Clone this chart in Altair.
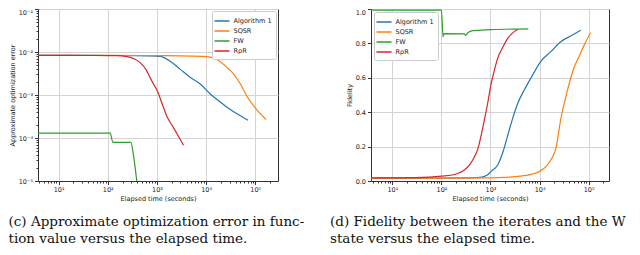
import altair as alt
import pandas as pd

SERIES = ["Algorithm 1", "SQSR", "FW", "RρR"]
COLORS = ["#1f77b4", "#ff7f0e", "#2ca02c", "#d62728"]

# ---------- panel (c): approximate optimization error ----------
err_alg1_t = [3.8, 10, 50, 100, 300, 600, 1000, 1170, 1860, 2950, 4500, 7600, 12000, 19000, 31000, 50000, 71000]
err_alg1_v = [8.35e-3, 8.35e-3, 8.35e-3, 8.3e-3, 8.25e-3, 8.15e-3, 8.05e-3, 7.9e-3, 6.1e-3, 4.0e-3, 2.7e-3, 1.8e-3, 1.07e-3, 7.0e-4, 4.6e-4, 3.3e-4, 2.6e-4]

err_sqsr_t = [3.8, 100, 1000, 5000, 10000, 14000, 20000, 27000, 36000, 50000, 68000, 108000, 165000]
err_sqsr_v = [8.35e-3, 8.35e-3, 8.25e-3, 8.05e-3, 7.8e-3, 7.3e-3, 5.8e-3, 4.3e-3, 3.1e-3, 1.8e-3, 9.2e-4, 4.5e-4, 2.7e-4]

err_fw_t = [3.8, 112, 127, 295, 333, 390, 525]
err_fw_v = [1.3e-4, 1.3e-4, 7.9e-5, 7.9e-5, 4.0e-5, 1.0e-5, 1.0e-6]

err_rgr_t = [3.8, 50, 150, 245, 350, 460, 600, 720, 850, 1000, 1260, 1590, 2200, 3470]
err_rgr_v = [8.35e-3, 8.3e-3, 8.2e-3, 7.8e-3, 6.9e-3, 5.6e-3, 3.9e-3, 2.6e-3, 1.8e-3, 1.3e-3, 6.5e-4, 3.2e-4, 1.7e-4, 6.8e-5]

# ---------- panel (d): fidelity ----------
fid_alg1_t = [3.7, 100, 300, 600, 750, 890, 1030, 1410, 1800, 2240, 2800, 3600, 5000, 6800, 10700, 17000, 27000, 45000, 69000]
fid_alg1_v = [0.017, 0.017, 0.018, 0.021, 0.027, 0.038, 0.056, 0.094, 0.17, 0.264, 0.36, 0.452, 0.535, 0.603, 0.697, 0.752, 0.81, 0.846, 0.876]

fid_sqsr_t = [3.7, 100, 1000, 2000, 4000, 7000, 10000, 14500, 18000, 21500, 27000, 37000, 50500, 65000, 81000, 110000]
fid_sqsr_v = [0.016, 0.016, 0.018, 0.021, 0.028, 0.04, 0.056, 0.094, 0.135, 0.188, 0.358, 0.528, 0.66, 0.728, 0.79, 0.862]

fid_fw_t = [3.7, 100, 108, 112, 290, 310, 345, 435, 1000, 5900]
fid_fw_v = [0.994, 0.993, 0.838, 0.857, 0.855, 0.847, 0.862, 0.874, 0.88, 0.885]

fid_rgr_t = [3.7, 30, 100, 186, 280, 375, 460, 555, 650, 755, 880, 1030, 1200, 1410, 1800, 2240, 2800, 3600]
fid_rgr_v = [0.018, 0.02, 0.028, 0.038, 0.06, 0.094, 0.135, 0.188, 0.27, 0.358, 0.455, 0.565, 0.645, 0.716, 0.78, 0.829, 0.86, 0.881]

# tick positions / labels
x_major_labels = ["10⁰", "10¹", "10²", "10³", "10⁴", "10⁵"]
y_major_labels = ["10⁻⁵", "10⁻⁴", "10⁻³", "10⁻²", "10⁻¹"]
x_ticks = [k * 10 ** e for e in range(0, 6) for k in range(1, 10) if 3.8 <= k * 10 ** e <= 2.8e5]
y_ticks = [k * 10.0 ** e for e in range(-5, -1) for k in range(1, 10)] + [1e-1]
fid_ticks = [0.0, 0.2, 0.4, 0.6, 0.8, 1.0]

caption_c = ["(c) Approximate optimization error in func-", "tion value versus the elapsed time."]
caption_d = ["(d) Fidelity between the iterates and the W", "state versus the elapsed time."]


def long_frame(pairs):
    rows = []
    for name, (ts, vs) in zip(SERIES, pairs):
        for i, (t, v) in enumerate(zip(ts, vs)):
            rows.append({"series": name, "t": t, "v": v, "i": i})
    return pd.DataFrame(rows)


err_df = long_frame([(err_alg1_t, err_alg1_v), (err_sqsr_t, err_sqsr_v),
                     (err_fw_t, err_fw_v), (err_rgr_t, err_rgr_v)])
fid_df = long_frame([(fid_alg1_t, fid_alg1_v), (fid_sqsr_t, fid_sqsr_v),
                     (fid_fw_t, fid_fw_v), (fid_rgr_t, fid_rgr_v)])

MAJOR = "abs(log(datum.value)/LN10 - round(log(datum.value)/LN10)) < 1e-6"
x_label_expr = MAJOR + " ? " + str(x_major_labels) + "[round(log(datum.value)/LN10)] : ''"
y_label_expr = MAJOR + " ? " + str(y_major_labels) + "[round(log(datum.value)/LN10)+5] : ''"

AX = dict(labelFont="DejaVu Sans", labelFontSize=6.5, titleFont="DejaVu Sans",
          titleFontSize=6.5, titleFontWeight="normal", labelColor="#222",
          titleColor="#222", tickColor="#333", domainColor="#333",
          gridColor="#d4d4d4", gridWidth=1)

PLOT_H = 172


def log_x_axis():
    return alt.Axis(title="Elapsed time (seconds)", values=x_ticks, labelExpr=x_label_expr,
                    tickSize={"condition": {"test": MAJOR, "value": 3.5}, "value": 2},
                    gridOpacity={"condition": {"test": MAJOR, "value": 1}, "value": 0},
                    labelPadding=2, titlePadding=2, labelFlush=False, **AX)


color_scale = alt.Scale(domain=SERIES, range=COLORS)


def legend(orient, offset):
    return alt.Legend(title=None, orient=orient, offset=offset, labelFont="DejaVu Sans",
                      labelFontSize=6.5, labelColor="#222", symbolType="M-1.5,0L1.5,0",
                      symbolSize=100, symbolStrokeWidth=1.5, labelOffset=5.5,
                      strokeColor="#cccccc", fillColor="white", padding=4,
                      cornerRadius=2, rowPadding=0)


def caption(lines, dx):
    return alt.TitleParams(text=lines, orient="bottom", anchor="start", frame="group",
                           dx=dx, offset=13, font="DejaVu Serif", fontSize=13.5,
                           fontWeight="normal", lineHeight=17, color="#111", baseline="top")


line_mark = dict(strokeWidth=1.2, clip=True, interpolate="monotone")

left = alt.Chart(err_df, title=caption(caption_c, -29.5)).mark_line(**line_mark).encode(
    x=alt.X("t:Q", scale=alt.Scale(type="log", domain=[3.81, 2.9e5], nice=False),
            axis=log_x_axis()),
    y=alt.Y("v:Q", scale=alt.Scale(type="log", domain=[1e-5, 1e-1], nice=False),
            axis=alt.Axis(title="Approximate optimization error", values=y_ticks,
                          labelExpr=y_label_expr,
                          labelBaseline={"condition": {"test": "datum.value > 0.05", "value": "top"},
                                         "value": "middle"},
                          tickSize={"condition": {"test": MAJOR, "value": 3.5}, "value": 2},
                          gridOpacity={"condition": {"test": MAJOR, "value": 1}, "value": 0},
                          labelPadding=2, titlePadding=3, **AX)),
    color=alt.Color("series:N", scale=color_scale, legend=legend("top-right", 2)),
    order="i:Q",
).properties(width=240, height=PLOT_H)

right = alt.Chart(fid_df, title=caption(caption_d, -41)).mark_line(**line_mark).encode(
    x=alt.X("t:Q", scale=alt.Scale(type="log", domain=[3.67, 2.6e5], nice=False),
            axis=log_x_axis()),
    y=alt.Y("v:Q", scale=alt.Scale(domain=[0, 1], nice=False),
            axis=alt.Axis(title="Fidelity", values=fid_ticks, format=".1f", tickSize=3.5,
                          labelBaseline={"condition": {"test": "datum.value > 0.95", "value": "top"},
                                         "value": "middle"},
                          labelPadding=2, titlePadding=3, **AX)),
    color=alt.Color("series:N", scale=color_scale, legend=legend("top-left", 3)),
    order="i:Q",
).properties(width=238, height=PLOT_H)

chart = alt.hconcat(left, right, spacing=93, bounds="flush").resolve_scale(
    color="independent"
).resolve_legend(color="independent").configure_view(
    stroke="#333", strokeWidth=1
).properties(
    padding={"left": 0, "top": 0, "right": 0, "bottom": 0}
)

chart.save("out.html", embed_options={"renderer": "svg", "actions": False})
